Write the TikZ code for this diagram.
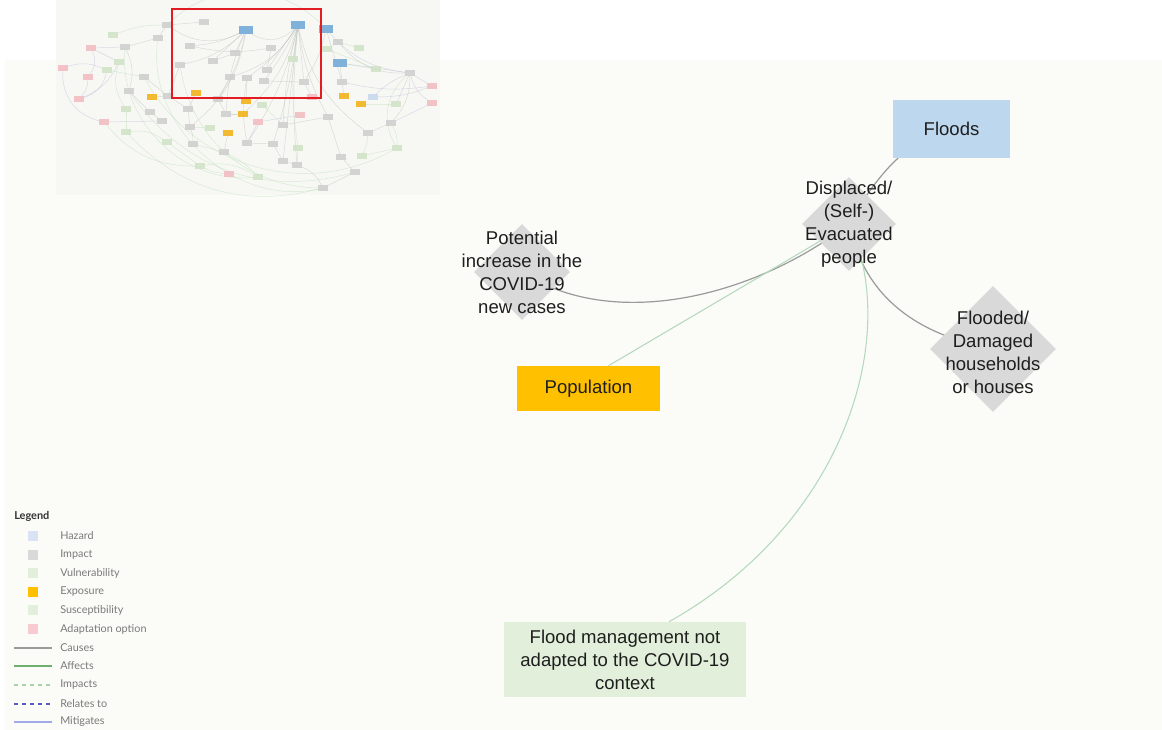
\documentclass[tikz,border=0pt]{standalone}
\usepackage{fontspec}
\setmainfont{Liberation Sans}
\newfontfamily\legendfont{Lato}
\usetikzlibrary{shapes.geometric}

\definecolor{paper}{HTML}{FBFCF7}
\definecolor{mappaper}{HTML}{F7F8F3}
\definecolor{hazardfill}{HTML}{BDD7EE}
\definecolor{impactfill}{HTML}{D9D9D9}
\definecolor{vulnfill}{HTML}{E2EFDA}
\definecolor{exposurefill}{HTML}{FFC000}
\definecolor{adaptfill}{HTML}{F8CBD0}
\definecolor{legendhazard}{HTML}{DAE3F3}
\definecolor{causeline}{HTML}{9A9A9A}
\definecolor{affectline}{HTML}{6DB06D}
\definecolor{impactline}{HTML}{A8D2A8}
\definecolor{relateline}{HTML}{5A5ABF}
\definecolor{mitigateline}{HTML}{A3AAE8}
\definecolor{softgreen}{HTML}{B5D9BC}
\definecolor{inktext}{HTML}{1E1E1E}
\definecolor{legendtext}{HTML}{7A7A7A}
\definecolor{mmgray}{HTML}{CDCDCD}
\definecolor{mmpink}{HTML}{F2B9C0}
\definecolor{mmgreen}{HTML}{CFE2C6}
\definecolor{mmorange}{HTML}{F3B010}
\definecolor{mmblue}{HTML}{74AAD8}
\definecolor{mmpaleblue}{HTML}{C4D8EF}
\definecolor{markred}{HTML}{E31B23}

\pgfdeclarelayer{bg}
\pgfdeclarelayer{edges}
\pgfsetlayers{bg,edges,main}

\tikzset{
  box/.style={rectangle, inner sep=0pt, text=inktext,
    font=\fontsize{13.9}{17.3}\selectfont, align=center},
  diamondbox/.style={diamond, fill=impactfill, inner sep=0pt, aspect=1},
  dtext/.style={text=inktext, font=\fontsize{13.9}{17.3}\selectfont, align=center, inner sep=0pt},
  causes/.style={draw=causeline, line width=0.9pt},
  affects/.style={draw=softgreen, line width=0.8pt},
  mm/.style={rectangle, inner sep=0pt, minimum width=7pt, minimum height=4.2pt, fill opacity=0.85},
  mmbig/.style={rectangle, inner sep=0pt, minimum width=10pt, minimum height=5.5pt, fill opacity=0.9},
  ec/.style={draw=gray!50, line width=0.35pt, opacity=0.55},
  ea/.style={draw=green!35!gray!40, line width=0.35pt, opacity=0.55},
  em/.style={draw=blue!30!gray!40, line width=0.35pt, opacity=0.55},
  swatch/.style={rectangle, inner sep=0pt, minimum width=7pt, minimum height=7pt},
  legendlabel/.style={anchor=west, inner sep=0pt, text=legendtext,
    font=\legendfont\fontsize{8.1}{9.5}\selectfont},
  lgcauses/.style={draw=causeline},
  lgaffects/.style={draw=affectline},
  lgimpacts/.style={draw=impactline, dashed},
  lgrelates/.style={draw=relateline, dashed},
  lgmitigates/.style={draw=mitigateline},
}

\begin{document}
\begin{tikzpicture}[x=0.75pt, y=-0.75pt]
\useasboundingbox (0,0) rectangle (1162,730);

% page and overview panels
\begin{pgfonlayer}{bg}
  \fill[white] (0,0) rectangle (1162,730);
  \fill[paper] (5,60) rectangle (1162,730);
  \fill[mappaper] (56,0) rectangle (440,195);
\end{pgfonlayer}

% ---------- overview map ----------
\foreach \n/\x/\y in {b1/246/30, b2/298/25, b3/326/29, b4/340/63}
  \node[mmbig, fill=mmblue] (\n) at (\x,\y) {};
\node[mm, fill=mmpaleblue] (b5) at (373,97) {};
\foreach \n/\x/\y in {o1/152/97, o2/196/93, o3/246/101, o4/243/114, o5/228/133, o6/344/96, o7/361/104}
  \node[mm, fill=mmorange] (\n) at (\x,\y) {};
\foreach \n/\x/\y in {p1/91/48, p2/63/68, p3/88/77, p4/79/99, p5/104/122, p6/258/122,
    p7/300/115, p8/312/97, p9/432/86, p10/432/103, p11/229/174}
  \node[mm, fill=mmpink] (\n) at (\x,\y) {};
\foreach \n/\x/\y in {v1/113/35, v2/119/62, v3/107/70, v4/126/109, v5/126/132, v6/167/142,
    v7/200/166, v8/210/128, v9/262/105, v10/258/177, v11/293/59, v12/327/49, v13/359/48,
    v14/376/69, v15/396/104, v16/397/148, v17/362/156, v18/298/148}
  \node[mm, fill=mmgreen] (\n) at (\x,\y) {};
\foreach \n/\x/\y in {g1/204/22, g2/167/25, g3/158/38, g4/125/47, g5/190/46, g6/180/65,
    g7/213/61, g8/235/53, g9/271/48, g10/267/70, g11/230/77, g12/247/78, g13/264/81,
    g14/304/82, g15/144/77, g16/129/91, g17/168/96, g18/188/109, g19/218/99, g20/226/114,
    g21/150/112, g22/162/121, g23/190/127, g24/193/144, g25/224/152, g26/247/143,
    g27/273/144, g28/283/125, g29/283/161, g30/297/165, g31/338/42, g32/342/82,
    g33/328/117, g34/368/133, g35/391/123, g36/410/73, g37/341/157, g38/355/172, g39/323/188}
  \node[mm, fill=mmgray] (\n) at (\x,\y) {};

\begin{pgfonlayer}{edges}
\foreach \a/\b/\bend/\s in {
    b2/g10/0/ec, b2/g13/5/ec, b2/g14/0/ec, b2/v11/0/ea, b2/g28/-5/ec, b2/g27/5/ec,
    b2/g26/10/ec, b2/o4/15/ec, b2/g30/-5/ec, b2/g12/10/ec, b2/g11/20/ec, b2/b1/40/ec,
    b2/g29/0/ec, b2/g34/-20/ec, b2/v18/-8/ea, b2/g33/-10/ec,
    b1/g5/10/ec, b1/g6/15/ec, b1/g7/0/ec, b1/g19/10/ec, b1/g2/30/ec, b1/g8/0/ec,
    b1/g23/20/ec, b1/g20/-10/ec,
    b3/g32/0/em, b3/g36/-20/em, b3/g14/10/ec, b4/g32/0/ec, b4/v14/0/ea, b4/g36/0/em,
    p1/v2/0/em, p1/p3/30/em, p2/v3/20/em, p3/p4/20/em, p4/v3/-30/em, p5/g22/0/em,
    p1/g4/0/em, v3/g15/0/ea, g4/g16/20/ec, p2/p5/-40/em, p4/v2/-20/em,
    p9/g36/0/em, p10/g36/20/em, p9/g32/10/em, p10/g35/0/em, g36/g35/20/ec, g36/v16/-40/ea,
    g15/g17/0/ec, g16/g21/0/ec, g17/g18/0/ec, g18/g23/0/ec, g23/g24/10/ec, g24/g25/0/ea,
    g19/g20/0/ec, g20/o4/0/ec, o3/g12/0/ec, g11/g19/0/ec, g12/g26/-10/ec, g25/v10/10/ea,
    g26/g27/0/ec, g28/g33/0/ec, g33/g37/0/ec, g37/g38/0/ec, g34/g35/0/ec, g34/v17/10/ea,
    v17/v16/0/ea, g30/g39/20/ec, g39/g38/0/ec, v18/g30/0/ea, v9/g28/0/ea, v7/v10/20/ea,
    v6/v7/0/ea, v4/v5/0/ea, v5/v6/20/ea, v8/g23/0/ea, o5/g25/0/ec, g6/g17/0/ec,
    g3/g4/0/ec, g2/g3/0/ec, g1/g2/0/ec, g5/g9/-10/ec, g7/g8/0/ec, g9/g10/0/ec,
    g13/g14/0/ec, v12/g31/0/ea, v13/g31/0/ea, v12/v14/0/ea, o6/g32/0/ec, o7/v15/0/ea,
    v15/g36/0/em, p8/g14/0/em, p7/p6/0/em, p6/g26/0/em, o1/g17/0/ec, o2/g18/0/ec,
    p11/v7/10/ea, g29/g30/0/ec, g27/g29/0/ec, g21/g22/0/ec,
    v5/g39/-30/ea, p5/v7/-25/ea, g15/v16/-45/ea, g16/g38/-35/ea, g31/g36/-25/ec,
    g3/g39/-55/ea, v1/g2/10/ea, v2/v4/-25/ea, g2/b3/45/ea, g4/v10/-50/ea,
    g6/g39/-40/ea, g35/v16/15/ea, b5/g36/10/em, b5/p9/-10/em}
  \draw[\s] (\a) to[bend left=\bend] (\b);
\end{pgfonlayer}

% highlighted area of the overview
\draw[markred, line width=1.5pt] (172,9) rectangle (321,98);

% ---------- main diagram ----------
\node[box, fill=hazardfill, minimum width=87.75pt, minimum height=43.5pt] (floods) at (951.5,129) {Floods};
\node[box, fill=exposurefill, minimum width=107.25pt, minimum height=33.75pt] (pop) at (588.5,388.5) {Population};
\node[box, fill=vulnfill, minimum width=181.5pt, minimum height=56.25pt] (mgmt) at (625,659.5)
  {Flood management not\\adapted to the COVID-19\\context};

\node[diamondbox, minimum width=70.5pt, minimum height=70.5pt] (disp) at (849,224) {};
\node[diamondbox, minimum width=72pt, minimum height=72pt] (pot) at (522,272) {};
\node[diamondbox, minimum width=94.5pt, minimum height=94.5pt] (flooded) at (993,349) {};

\node[dtext] (disptext) at (849,224) {Displaced/\\(Self-)\\Evacuated\\people};
\node[dtext] (pottext) at (522,272) {Potential\\increase in the\\COVID-19\\new cases};
\node[dtext] (floodedtext) at (993,352) {Flooded/\\Damaged\\households\\or houses};

\begin{pgfonlayer}{edges}
  \draw[causes] (floods) .. controls (895,160) and (870,185) .. (disp.center);
  \draw[causes] (disp.center) .. controls (750,300) and (610,330) .. (pot.center);
  \draw[causes] (disp.center) .. controls (865,300) and (920,335) .. (flooded.center);
  \draw[affects] ([xshift=15pt]pop.north) -- (disp.center);
  \draw[affects] ([xshift=33pt]mgmt.north) .. controls (850,520) and (900,330) .. (disp.center);
\end{pgfonlayer}

% ---------- legend ----------
\node[anchor=west, inner sep=0pt, text=black!80, font=\legendfont\bfseries\fontsize{8.2}{9}\selectfont]
  (legendtitle) at (14,516) {Legend};
\foreach \n/\y/\c/\t in {hz/536/legendhazard/Hazard, im/555/impactfill/Impact,
    vu/573/vulnfill/Vulnerability, ex/592/exposurefill/Exposure,
    su/610/vulnfill/Susceptibility, ad/629/adaptfill/Adaptation option} {
  \node[swatch, fill=\c] (sw\n) at (33,\y) {};
  \node[legendlabel] (lb\n) at (60,\y) {\t};
}
\foreach \n/\y/\s/\t in {ca/648/lgcauses/Causes, af/666/lgaffects/Affects,
    ip/685/lgimpacts/Impacts, re/704/lgrelates/Relates to,
    mi/722/lgmitigates/Mitigates} {
  \coordinate (ls\n) at (14,\y);
  \coordinate (le\n) at (52,\y);
  \draw[line width=0.9pt, \s] (ls\n) -- (le\n);
  \node[legendlabel] (lb\n) at (60,\y) {\t};
}
\end{tikzpicture}
\end{document}
